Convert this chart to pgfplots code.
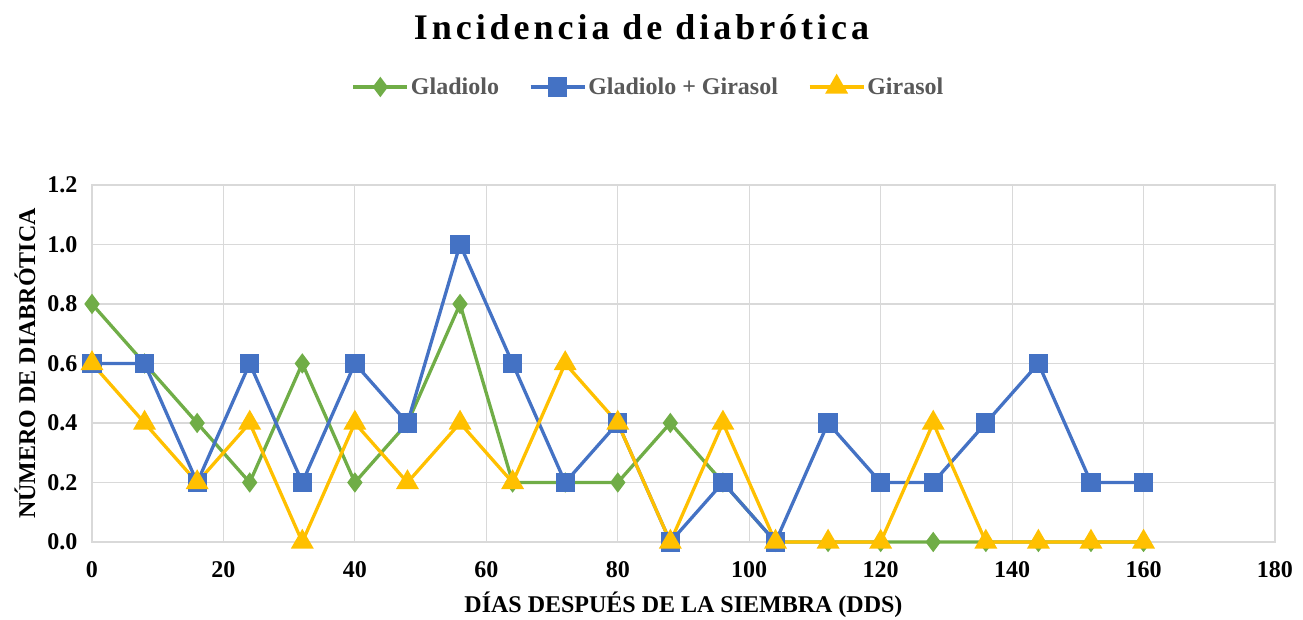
\documentclass[border=0pt]{standalone}
\usepackage{fontspec}
\setmainfont{Liberation Serif}
\usepackage{pgfplots}
\pgfplotsset{compat=1.18}
\definecolor{cgreen}{HTML}{70AD47}
\definecolor{cblue}{HTML}{4472C4}
\definecolor{cyellow}{HTML}{FFC000}
\definecolor{cgrid}{HTML}{D9D9D9}
\definecolor{clegend}{HTML}{595959}
\begin{document}
\begin{tikzpicture}[x=1pt,y=1pt]
\useasboundingbox (-92,-78) rectangle (1211,542);
\begin{axis}[
  at={(0,0)}, anchor=south west,
  scale only axis, width=1183pt, height=357pt,
  xmin=0, xmax=180, ymin=0, ymax=1.2,
  xtick={0,20,...,180}, ytick={0,0.2,...,1.2},
  grid=major, major grid style={cgrid, line width=1.2pt},
  axis line style={cgrid, line width=1.2pt},
  tick style={draw=none},
  /pgf/number format/assume math mode=true,
  ticklabel style={font=\fontsize{24}{27}\selectfont\bfseries, text=black},
  yticklabel style={/pgf/number format/fixed, /pgf/number format/fixed zerofill, /pgf/number format/precision=1, anchor=east, xshift=-11pt},
  xticklabel style={anchor=base, yshift=-36pt},
  xlabel={DÍAS DESPUÉS DE LA SIEMBRA (DDS)},
  ylabel={NÚMERO DE DIABRÓTICA},
  label style={font=\fontsize{24}{27}\selectfont\bfseries},
  xlabel style={at={(axis description cs:0.5,0)}, anchor=center, yshift=-63pt},
  ylabel style={at={(axis description cs:0,0.5)}, anchor=center, yshift=67pt},
  legend columns=3,
  legend style={at={(0.5,1)}, anchor=center, yshift=98pt, xshift=-35pt, draw=none,
    font=\fontsize{24}{27}\selectfont\bfseries, text=clegend,
    /tikz/every odd column/.append style={column sep=0pt},
    /tikz/every even column/.append style={column sep=28pt}},
  legend image code/.code={%
    \draw[#1, mark repeat=2, mark phase=2] plot coordinates {(0pt,0pt) (27pt,0pt) (54pt,0pt)};},
  clip=false,
]
\addplot[cgreen, line width=3.3pt, mark=diamond*, mark size=7.5pt, mark options={solid}] coordinates {
(0,0.8) (8,0.6) (16,0.4) (24,0.2) (32,0.6) (40,0.2) (48,0.4) (56,0.8) (64,0.2) (72,0.2) (80,0.2)
(88,0.4) (96,0.2) (104,0) (112,0) (120,0) (128,0) (136,0) (144,0) (152,0) (160,0)};
\addlegendentry{Gladiolo}
\addplot[cblue, line width=3.3pt, mark=square*, mark size=8pt, mark options={solid}] coordinates {
(0,0.6) (8,0.6) (16,0.2) (24,0.6) (32,0.2) (40,0.6) (48,0.4) (56,1.0) (64,0.6) (72,0.2) (80,0.4)
(88,0) (96,0.2) (104,0) (112,0.4) (120,0.2) (128,0.2) (136,0.4) (144,0.6) (152,0.2) (160,0.2)};
\addlegendentry{Gladiolo + Girasol}
\addplot[cyellow, line width=3.3pt, mark=triangle*, mark size=10pt, mark options={solid}] coordinates {
(0,0.6) (8,0.4) (16,0.2) (24,0.4) (32,0) (40,0.4) (48,0.2) (56,0.4) (64,0.2) (72,0.6) (80,0.4)
(88,0) (96,0.4) (104,0) (112,0) (120,0) (128,0.4) (136,0) (144,0) (152,0) (160,0)};
\addlegendentry{Girasol}
\node[font=\fontsize{36}{40}\selectfont\bfseries\addfontfeature{LetterSpace=11}, anchor=center] at (rel axis cs:0.5,1) [yshift=158pt, xshift=-42pt] {Incidencia de diabrótica};
\end{axis}
\end{tikzpicture}
\end{document}
